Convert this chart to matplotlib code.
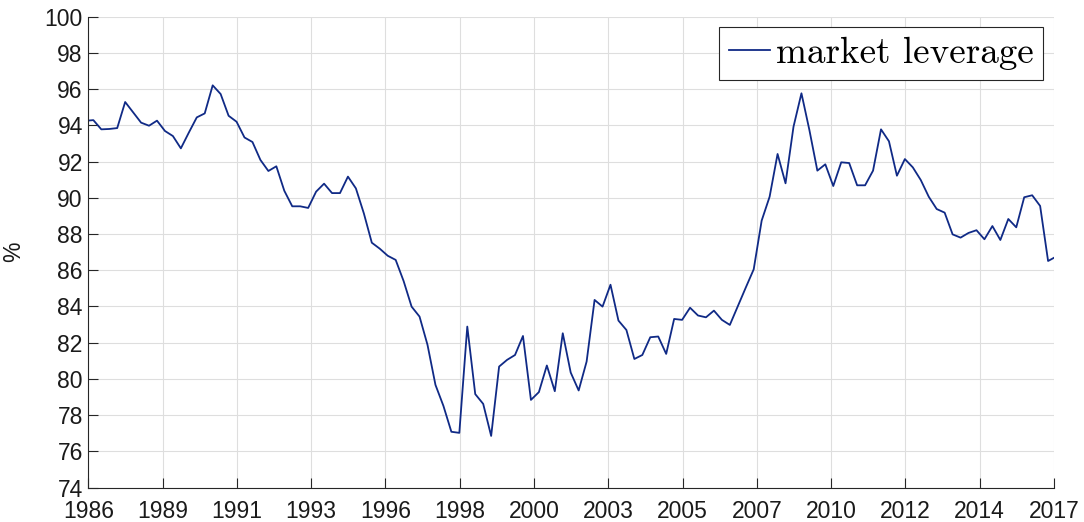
import numpy as np
import matplotlib
matplotlib.use('Agg')
from matplotlib import pyplot as plt

plt.rcParams['font.family'] = 'Liberation Sans'

# quarterly market leverage (%), first point 1986Q4 (clipped at the left edge)
leverage = [
    94.25, 94.29, 93.78, 93.80, 93.85, 95.29, 94.72, 94.15, 93.98, 94.26,
    93.69, 93.41, 92.73, 93.60, 94.44, 94.66, 96.21, 95.73, 94.53, 94.20,
    93.33, 93.08, 92.09, 91.48, 91.74, 90.39, 89.53, 89.53, 89.44, 90.34,
    90.78, 90.26, 90.26, 91.17, 90.52, 89.14, 87.52, 87.19, 86.80, 86.57,
    85.40, 83.99, 83.44, 81.88, 79.67, 78.51, 77.08, 77.02, 82.89, 79.16,
    78.62, 76.85, 80.68, 81.05, 81.32, 82.37, 78.84, 79.27, 80.74, 79.32,
    82.52, 80.35, 79.36, 80.96, 84.36, 83.99, 85.20, 83.22, 82.70, 81.10,
    81.32, 82.30, 82.34, 81.38, 83.31, 83.26, 83.93, 83.50, 83.40, 83.77,
    83.26, 82.98, 84.01, 85.04, 86.05, 88.74, 90.06, 92.42, 90.80, 93.92,
    95.77, 93.74, 91.50, 91.85, 90.65, 91.96, 91.92, 90.69, 90.69, 91.50,
    93.78, 93.12, 91.22, 92.14, 91.68, 90.98, 90.06, 89.38, 89.18, 87.98,
    87.80, 88.06, 88.21, 87.71, 88.44, 87.67, 88.83, 88.37, 90.03, 90.14,
    89.55, 86.51, 86.75,
]
start_year = 1986.75
tick_labels = ['1986', '1989', '1991', '1993', '1996', '1998', '2000',
               '2003', '2005', '2007', '2010', '2012', '2014', '2017']
y_ticks = list(range(74, 101, 2))

years = start_year + 0.25 * np.arange(len(leverage))
x_lo, x_hi = 1986.843, 2017.185

fig = plt.figure(figsize=(10.84, 5.22), dpi=100)
ax = fig.add_axes([0.0815, 0.066, 0.8908, 0.902])

ax.plot(years, leverage, color='#102a86', lw=1.3, label='market leverage')

ax.set_xlim(x_lo, x_hi)
ax.set_ylim(74, 100)
ax.set_xticks(np.linspace(x_lo, x_hi, len(tick_labels)))
ax.set_xticklabels(tick_labels)
ax.set_yticks(y_ticks)

ax.grid(True, color='#dedede', lw=0.8)
ax.set_axisbelow(True)
for s in ['top', 'right']:
    ax.spines[s].set_visible(False)
for s in ['left', 'bottom']:
    ax.spines[s].set_color('#262626')
    ax.spines[s].set_linewidth(0.8)

ax.tick_params(direction='in', length=7, width=0.8, color='#262626',
               labelcolor='#1a1a1a', labelsize=16.5)
ax.tick_params(axis='x', pad=9)
ax.tick_params(axis='y', pad=4)

ax.set_ylabel('%', fontsize=16.5, color='#1a1a1a', labelpad=14)

leg = ax.legend(loc='upper right', bbox_to_anchor=(0.989, 0.978), borderaxespad=0,
                prop={'family': 'cmr10', 'size': 26.7}, handlelength=1.1,
                handletextpad=0.15, borderpad=0.27, fancybox=False, framealpha=1)
leg.get_frame().set_edgecolor('#262626')
leg.get_frame().set_linewidth(0.8)

plt.savefig('out.png', dpi=100)
